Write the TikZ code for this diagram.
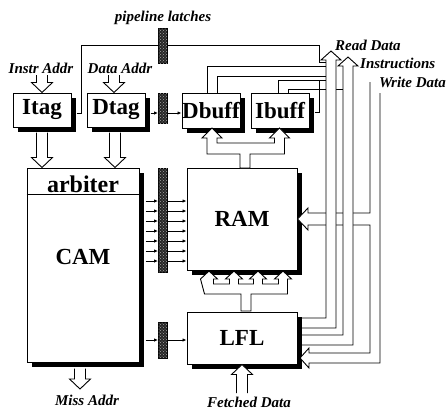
\documentclass[tikz,border=0pt]{standalone}
\usepackage{fontspec}
\setmainfont{Liberation Serif}
\usetikzlibrary{arrows.meta, calc, positioning, shadows, patterns}

% hollow bus arrows, tail point and tip point (vertical only)
\newcommand\busdown[2]{%
  \draw[bus] let \p1=#1, \p2=#2 in
    (\x1-5.5pt,\y1) -- (\x1-5.5pt,\y2+10pt) -- (\x1-10.5pt,\y2+10pt) -- (\x1,\y2)
    -- (\x1+10.5pt,\y2+10pt) -- (\x1+5.5pt,\y2+10pt) -- (\x1+5.5pt,\y1);}
\newcommand\busup[2]{%
  \draw[bus] let \p1=#1, \p2=#2 in
    (\x1-5.5pt,\y1) -- (\x1-5.5pt,\y2-10pt) -- (\x1-10.5pt,\y2-10pt) -- (\x1,\y2)
    -- (\x1+10.5pt,\y2-10pt) -- (\x1+5.5pt,\y2-10pt) -- (\x1+5.5pt,\y1);}

\begin{document}
\begin{tikzpicture}[x=1pt, y=-1pt, >={Latex[length=4pt,width=3.5pt]},
    box/.style={draw, line width=1pt, fill=white, inner sep=0pt,
                font=\fontsize{23}{23}\selectfont\bfseries,
                drop shadow={shadow xshift=5pt, shadow yshift=-5pt, fill=black, opacity=1}},
    latch/.style={draw, fill=black!85, minimum width=9pt, inner sep=0pt,
                  postaction={pattern=crosshatch dots, pattern color=gray!70}},
    wire/.style={line width=0.9pt},
    sig/.style={wire, ->},
    bus/.style={line width=0.9pt, fill=white},
    lbl/.style={font=\fontsize{15}{15}\selectfont\bfseries\itshape, inner sep=0pt}]
    \useasboundingbox (0,0) rectangle (446,410);

    % blocks
    \node[box, minimum width=58pt, minimum height=34pt] (itag) at (42,110) {Itag};
    \node[box, minimum width=58pt, minimum height=34pt, right=15pt of itag] (dtag) {Dtag};
    \node[box, minimum width=58pt, minimum height=35pt] (dbuff) at (211,110.5) {Dbuff};
    \node[box, minimum width=58pt, minimum height=35pt, right=10pt of dbuff] (ibuff) {Ibuff};
    \node[box, minimum width=112pt, minimum height=194pt] (cam) at (83,265) {};
    \node[box, minimum width=110pt, minimum height=102pt] (ram) at (242,219) {RAM};
    \node[box, minimum width=110pt, minimum height=52pt, below=41pt of ram] (lfl) {LFL};
    \draw[wire] ([yshift=-27pt]cam.north west) -- ([yshift=-27pt]cam.north east);
    \node[font=\fontsize{24}{24}\selectfont\bfseries] (arb) at (83,184) {arbiter};
    \node[font=\fontsize{23}{23}\selectfont\bfseries] (camtext) at (83,257) {CAM};

    % signal wires
    \coordinate (rdA) at (326,62);
    \coordinate (rdB) at (326,66);
    \coordinate (rdC) at (326,76);
    \coordinate (rdD) at (326,80);
    \coordinate (insA) at (343,89);
    \coordinate (dtagR) at ([xshift=5pt,yshift=-3pt]dtag.east);
    \coordinate (camR) at ([xshift=6pt]cam.east);
    \draw[sig] ([xshift=5pt,yshift=-3pt]itag.east) -- ++(5,0) |- (162.5,45.5);
    \draw[wire] (167,45.5) -| ([xshift=-7pt]rdA) -- (rdA);
    \draw[sig] (dtagR) -- (dtagR -| 158,0);
    \draw[sig] (dtagR -| 167,0) -- (dtagR -| dbuff.west);
    \foreach \k in {0,...,6} {
        \coordinate (w\k) at ([yshift={64pt-\k*10pt}]camR);
        \draw[sig] (w\k) -- (w\k -| 158,0);
        \draw[sig] (w\k -| 167,0) -- (w\k -| ram.west);
    }
    \coordinate (lflL) at (camR |- 0,340);
    \draw[sig] (lflL) -- (lflL -| 158,0);
    \draw[sig] (lflL -| 167,0) -- (lflL -| lfl.west);
    \draw[wire] ([xshift=-4pt]dbuff.north) |- (rdB);
    \draw[wire] ([xshift=6pt]dbuff.north) |- (rdC);
    \draw[wire] ([xshift=-2pt]ibuff.north) |- (rdD);
    \draw[wire] ([xshift=5pt,yshift=-2pt]ibuff.east) -| ([xshift=-7pt]rdD);
    \draw[wire] ([xshift=8pt]ibuff.north) |- (insA);

    % pipeline latches
    \node[latch, minimum height=35pt] (latchA) at (162.5,45.5) {};
    \node[latch, minimum height=30pt] (latchB) at (162.5,108) {};
    \node[latch, minimum height=104pt] (latchC) at (162.5,220) {};
    \node[latch, minimum height=36pt] (latchD) at (162.5,340) {};

    % address and data buses
    \coordinate (instr) at (42,75);
    \coordinate (daddr) at (114,75);
    \coordinate (miss) at (80,389);
    \coordinate (fetch) at (242,393);
    \busdown{(instr)}{(itag.north)}
    \busdown{(daddr)}{(dtag.north)}
    \busdown{([yshift=-5pt]itag.south)}{(cam.north)}
    \busdown{([xshift=-1pt,yshift=-5pt]dtag.south)}{(cam.north)}
    \busdown{([xshift=-3pt,yshift=-6pt]cam.south)}{(miss)}
    \busup{(fetch)}{(lfl.south)}
    % RAM to Dbuff / Ibuff
    \draw[bus] (207,138) -- (207,154) -- (240,154) -- (240,168) -- (250,168) -- (250,154)
        -- (284.5,154) -- (284.5,138) -- (289.5,138) -- (279.5,128) -- (269.5,138)
        -- (274.5,138) -- (274.5,143) -- (217,143) -- (217,138) -- (222,138)
        -- (212,128) -- (202,138) -- cycle;
    % LFL to RAM
    \draw[bus] (204.5,294) -- (241,294) -- (241,311) -- (251,311) -- (251,294) -- (287.5,294)
        -- (287.5,279) -- (291.5,279) -- (283,271) -- (274.5,279) -- (278.5,279) -- (278.5,284)
        -- (262.5,284) -- (262.5,279) -- (266.5,279) -- (258,271) -- (249.5,279) -- (253.5,279)
        -- (253.5,284) -- (238.5,284) -- (238.5,279) -- (242.5,279) -- (234,271) -- (225.5,279)
        -- (229.5,279) -- (229.5,284) -- (213.5,284) -- (213.5,279) -- (217.5,279) -- (209,271)
        -- (200.5,279) -- cycle;
    % write data, instructions, read data
    \draw[bus] (370,82) -- (370,213) -- (308,213) -- (308,208) -- (ram.east) -- (308,230)
        -- (308,225) -- (370,225) -- (370,353) -- (309,353) -- (309,348) -- (300,358)
        -- (309,368) -- (309,363) -- (380,363) -- (380,93);
    \draw[bus] (302,335) -- (343,335) -- (343,66) -- (338,66) -- (348,57) -- (358,66)
        -- (353,66) -- (353,345) -- (302,345);
    \draw[bus] (302,318) -- (326,318) -- (326,60) -- (321,60) -- (331,51) -- (341,60)
        -- (336,60) -- (336,328) -- (302,328);

    % labels
    \node[lbl] (lblpipe) at (163,18) {pipeline latches};
    \node[lbl] (lblinstr) at (41,68) {Instr Addr};
    \node[lbl] (lbldaddr) at (120,68) {Data Addr};
    \node[lbl, anchor=west] (lblread) at (335,45) {Read Data};
    \node[lbl, anchor=west] (lblins) at (360,63) {Instructions};
    \node[lbl, anchor=east] (lblwrite) at (446,82) {Write Data};
    \node[lbl] (lblmiss) at (87,400) {Miss Addr};
    \node[lbl] (lblfetch) at (249,402) {Fetched Data};
\end{tikzpicture}
\end{document}
